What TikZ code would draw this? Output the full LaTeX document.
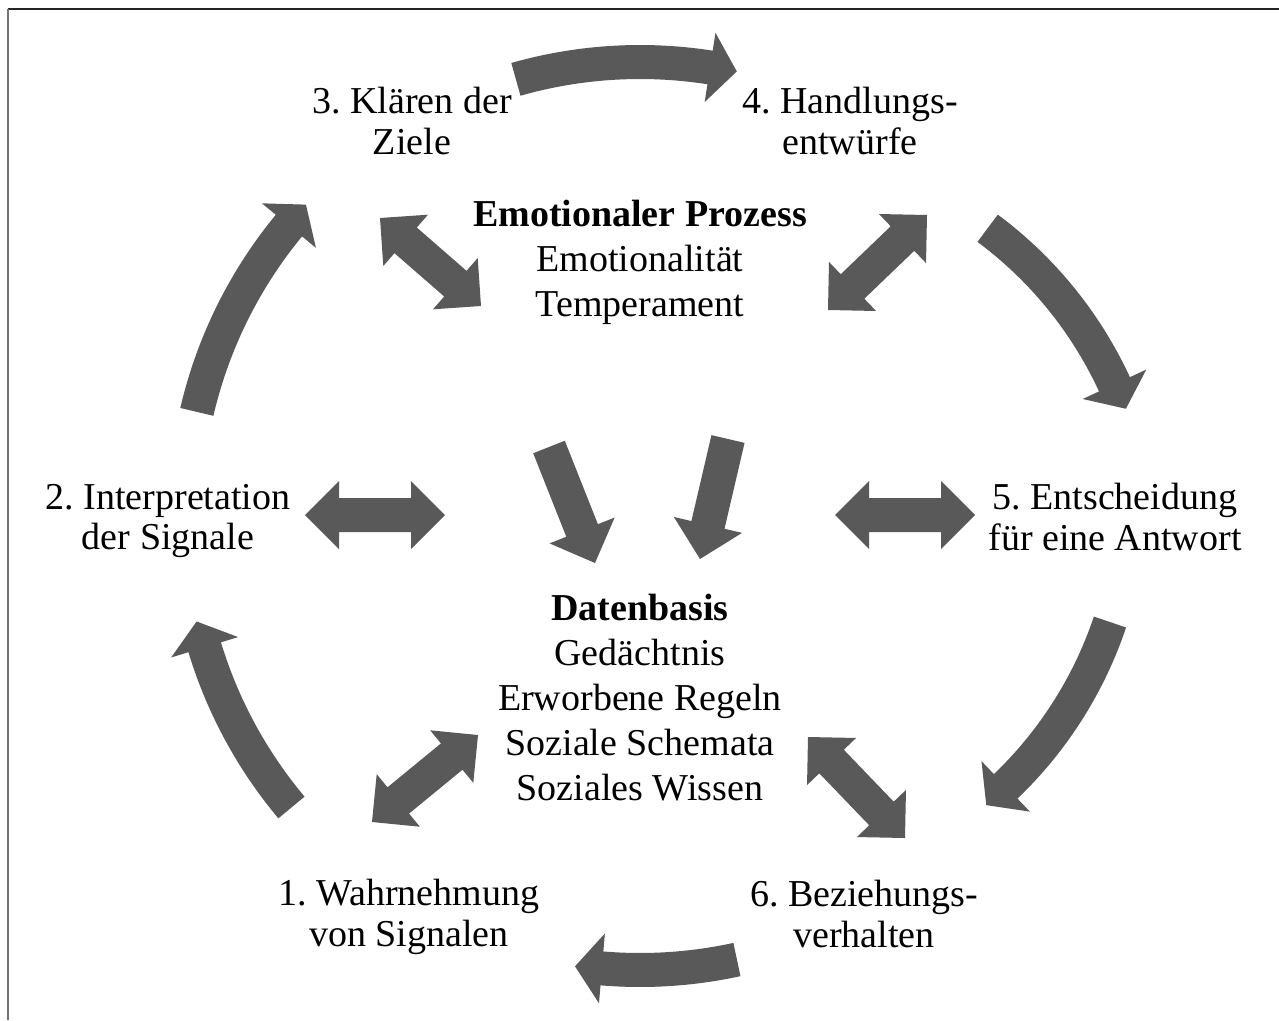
\documentclass[tikz,border=0pt]{standalone}
\usepackage{fontspec}
\setmainfont{Liberation Serif}
\usetikzlibrary{calc}
\frenchspacing
\definecolor{arrowgray}{HTML}{595959}
\newcommand\daHL{34pt}
\newcommand\daHW{34pt}
\newcommand\daSW{17pt}
\newcommand\DblArrow[2]{%
  \coordinate (da1) at ($(#1)!\daHL!(#2)$);
  \coordinate (db1) at ($(#2)!\daHL!(#1)$);
  \fill[arrowgray] (#1) -- ($(da1)!\daHW!90:(#2)$) -- ($(da1)!\daSW!90:(#2)$)
    -- ($(db1)!\daSW!-90:(#1)$) -- ($(db1)!\daHW!-90:(#1)$) -- (#2)
    -- ($(db1)!\daHW!90:(#1)$) -- ($(db1)!\daSW!90:(#1)$)
    -- ($(da1)!\daSW!-90:(#2)$) -- ($(da1)!\daHW!-90:(#2)$) -- cycle;}
\newcommand\SglArrow[2]{%
  \coordinate (sp1) at ($(#2)!35pt!(#1)$);
  \fill[arrowgray] ($(#1)!\daSW!90:(#2)$) -- ($(sp1)!\daSW!-90:(#1)$)
    -- ($(sp1)!35pt!-90:(#1)$) -- (#2) -- ($(sp1)!35pt!90:(#1)$)
    -- ($(sp1)!\daSW!90:(#1)$) -- ($(#1)!\daSW!-90:(#2)$) -- cycle;}
\newcommand\CurvArrow[6]{% name, cx, cy, r, start, end
  \coordinate (#1) at (#2,#3);
  \draw[arrowgray, line width=34pt] ($(#1)+({#5}:{#4})$) arc[start angle=#5, end angle=#6+0.4, radius=#4];
  \fill[arrowgray] ($(#1)+({#6}:{#4+35})$) -- ($(#1)+({#6+atan(27/#4)}:{#4+1})$) -- ($(#1)+({#6}:{#4-35})$) -- cycle;}
\tikzset{
  lbl/.style={align=center, inner sep=0pt, font=\fontsize{38}{40.5}\selectfont},
  ctr/.style={align=center, inner sep=0pt, font=\fontsize{38}{45}\selectfont}
}
\begin{document}
\begin{tikzpicture}[x=1pt, y=-1pt]
\useasboundingbox (0,0) rectangle (1279,1020);
\fill[white] (0,0) rectangle (1279,1020);
% frame (top and left edges)
\coordinate (fa) at (8,9);
\coordinate (fb) at (1279,9);
\coordinate (fc) at (8,1020);
\draw[line width=2.5pt, black!85] (fa) -- (fb);
\draw[line width=2.5pt, black!55] (fa) -- (fc);

% labels
\node[lbl] (s3) at (412,121) {3. Klären der\\Ziele};
\node[lbl] (s4) at (850,121) {4. Handlungs-\\entwürfe};
\node[lbl] (s2) at (168,521) {2. Interpretation\\der Signale};
\node[lbl] (s5) at (1115,517) {5. Entscheidung\\für eine Antwort};
\node[lbl] (s1) at (409,917) {1. Wahrnehmung\\von Signalen};
\node[lbl] (s6) at (864,914) {6. Beziehungs-\\verhalten};
\node[ctr] (emo) at (640,262) {\textbf{Emotionaler Prozess}\\Emotionalität\\Temperament};
\node[ctr] (db) at (640,698) {\textbf{Datenbasis}\\Gedächtnis\\Erworbene Regeln\\Soziale Schemata\\Soziales Wissen};

% curved cycle arrows
\CurvArrow{c34}{640}{515}{453}{-105.9}{-81.1}
\CurvArrow{c45}{745}{555}{407}{-53.4}{-24.8}
\CurvArrow{c56}{723.3}{491.9}{408}{18.6}{46.2}
\CurvArrow{c61}{640}{515}{455}{77.7}{94.8}
\CurvArrow{c12}{640}{515}{455}{140}{163.1}
\CurvArrow{c23}{640}{515}{455}{-166.9}{-140.5}

% double arrows
\coordinate (d1a) at (380,218); \coordinate (d1b) at (481,306);
\coordinate (d2a) at (828,310); \coordinate (d2b) at (927,215);
\coordinate (d3a) at (305,515); \coordinate (d3b) at (445,515);
\coordinate (d4a) at (835,515); \coordinate (d4b) at (975,515);
\coordinate (d5a) at (372,822); \coordinate (d5b) at (478,735);
\coordinate (d6a) at (808,737); \coordinate (d6b) at (905,838);
\DblArrow{d1a}{d1b}
\DblArrow{d2a}{d2b}
\DblArrow{d3a}{d3b}
\DblArrow{d4a}{d4b}
\DblArrow{d5a}{d5b}
\DblArrow{d6a}{d6b}

% arrows from emotional process to data base
\coordinate (e1a) at (549,447); \coordinate (e1b) at (595,563);
\coordinate (e2a) at (728,439); \coordinate (e2b) at (700,559);
\SglArrow{e1a}{e1b}
\SglArrow{e2a}{e2b}
\end{tikzpicture}
\end{document}
